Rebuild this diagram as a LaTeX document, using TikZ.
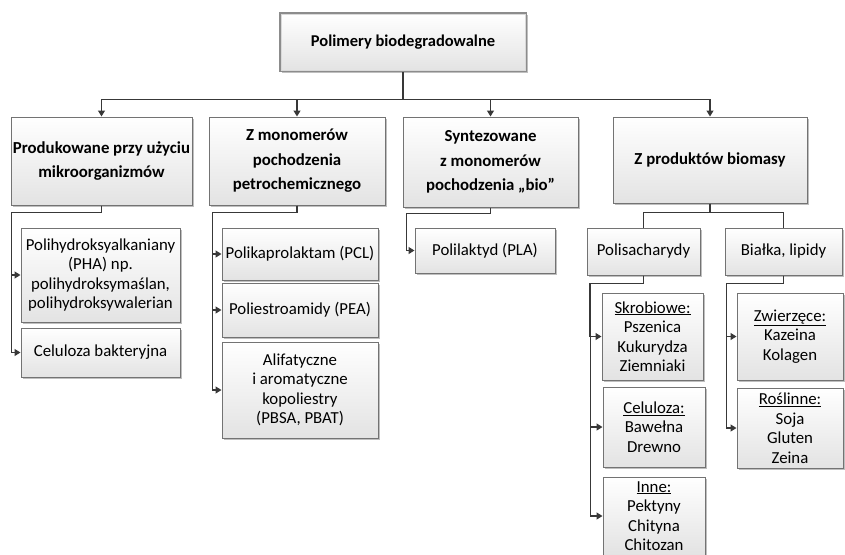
\documentclass[tikz,border=0pt]{standalone}
\usepackage{fontspec}
\setmainfont{Carlito}
\usetikzlibrary{arrows.meta,shadows,calc}
\tikzset{
  box/.style={draw=black!55, line width=1pt, top color=white, bottom color=black!11,
    align=center, inner sep=1pt, font=\fontsize{16.8}{19.5}\selectfont,
    drop shadow={shadow xshift=1.5pt, shadow yshift=-1.5pt, opacity=0.25, fill=black}},
  hbox/.style={box, font=\fontsize{16.8}{24.5}\selectfont\bfseries},
  ln/.style={draw=black!78, line width=1.2pt},
  arr/.style={ln, -{Triangle[length=6pt,width=7pt]}},
}
\newcommand{\bx}[7][box]{\node[#1, minimum width=#5pt, minimum height=#6pt] (#2) at (#3,#4) {#7};}
\begin{document}
\begin{tikzpicture}[x=1pt,y=-1pt]
\useasboundingbox (0,0) rectangle (845,554);
% root
\node[box, line width=2.4pt, draw=black!45, minimum width=246pt, minimum height=58pt,
  font=\fontsize{16.5}{20}\selectfont\bfseries] (root) at (403,42) {Polimery biodegradowalne};
\draw[white!85!black, line width=0.5pt] ($(root.south west)+(2.2,-2.2)$) rectangle ($(root.north east)+(-2.2,2.2)$);
% level 1
\bx[hbox]{b1}{101.5}{161}{181}{88}{Produkowane przy użyciu\\mikroorganizmów}
\bx[hbox]{b2}{297}{161}{176}{88}{Z monomerów\\pochodzenia\\petrochemicznego}
\bx[hbox]{b3}{490.5}{162}{175}{90}{Syntezowane\\z monomerów\\pochodzenia „bio”}
\bx[hbox]{b4}{710}{160}{194}{86}{Z produktów biomasy}
% column 1
\bx{c11}{100.5}{275}{159}{94}{Polihydroksyalkaniany\\(PHA) np.\\polihydroksymaślan,\\polihydroksywalerian}
\bx{c12}{100.5}{352.5}{159}{49}{Celuloza bakteryjna}
% column 2
\bx{c21}{300}{254}{156}{52}{Polikaprolaktam (PCL)}
\bx{c22}{300}{310}{156}{54}{Poliestroamidy (PEA)}
\bx{c23}{300}{390}{156}{96}{Alifatyczne\\i aromatyczne\\kopoliestry\\(PBSA, PBAT)}
% column 3
\bx{c31}{485}{250.5}{140}{45}{Polilaktyd (PLA)}
% column 4
\bx{ps}{643.5}{251.5}{113}{47}{Polisacharydy}
\bx{bl}{783.5}{251.5}{117}{47}{Białka, lipidy}
\bx{sk}{652.5}{336.5}{101}{87}{\underline{Skrobiowe:}\\Pszenica\\Kukurydza\\Ziemniaki}
\bx{ce}{654}{427}{102}{80}{\underline{Celuloza:}\\Bawełna\\Drewno}
\node[box, inner sep=0pt, minimum width=102pt, minimum height=78pt] (in) at (654,516)
  {\underline{Inne:}\\Pektyny\\Chityna\\Chitozan};
\bx{zw}{790}{336.5}{106}{87}{\underline{Zwierzęce:}\\Kazeina\\Kolagen}
\bx{ro}{790}{428}{106}{80}{\underline{Roślinne:}\\Soja\\Gluten\\Zeina}
% connectors from root
\foreach \t in {b1,b2,b3,b4}
  \draw[arr] (root.south) -- ++(0,27) -| (\t.north);
% column 1
\foreach \t in {c11,c12}
  \draw[arr] (b1.south) -- ++(0,7) -| ($(\t.west)+(-9,0)$) -- (\t.west);
% column 2
\foreach \t in {c21,c22,c23}
  \draw[arr] (b2.south) -- ++(0,7) -| ($(\t.west)+(-9,0)$) -- (\t.west);
% column 3
\draw[arr] (b3.south) -- ++(0,6) -| ($(c31.west)+(-8,0)$) -- (c31.west);
% column 4
\foreach \t in {ps,bl}
  \draw[ln] (b4.south) -- ++(0,9) -| (\t.north);
\foreach \t in {sk,ce,in}
  \draw[arr] (ps.south) -- ++(0,8) -| ($(\t.west)+(-12,0)$) -- (\t.west);
\foreach \t in {zw,ro}
  \draw[arr] (bl.south) -- ++(0,8) -| ($(\t.west)+(-10,0)$) -- (\t.west);
\end{tikzpicture}
\end{document}
